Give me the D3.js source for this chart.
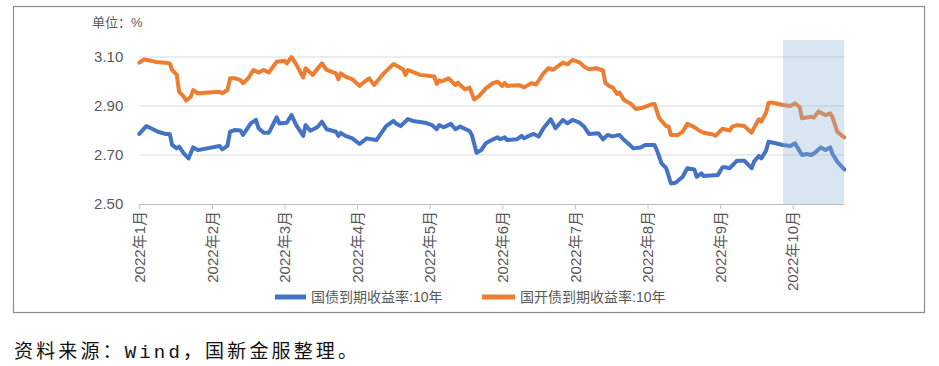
<!DOCTYPE html>
<html><head><meta charset="utf-8">
<script src="https://cdn.jsdelivr.net/npm/d3@7"></script>
<style>body{margin:0;background:#fff}svg{display:block}</style>
</head><body>
<svg id="chart" width="939" height="366"></svg>
<script>
// ---------- data ----------
const monthStarts = ["2022-01-01","2022-02-01","2022-03-01","2022-04-01","2022-05-01","2022-06-01","2022-07-01","2022-08-01","2022-09-01","2022-10-01","2022-11-01"];
const monthLabels = ["2022年1月","2022年2月","2022年3月","2022年4月","2022年5月","2022年6月","2022年7月","2022年8月","2022年9月","2022年10月"];
const yTicks = [2.50, 2.70, 2.90, 3.10];
const seriesNames = ["国债到期收益率:10年", "国开债到期收益率:10年"];
const unitLabel = "单位：%";
const sourceNote = "资料来源：Wind，国新金服整理。";
const highlightRange = ["2022-09-27", "2022-10-23"];
const highlightTop = 3.17;

const cgb10y = [
["2022-01-01",2.786],["2022-01-04",2.818],["2022-01-06",2.809],["2022-01-09",2.795],["2022-01-12",2.786],["2022-01-14",2.786],
["2022-01-15",2.741],["2022-01-17",2.727],["2022-01-18",2.734],["2022-01-20",2.707],["2022-01-22",2.686],["2022-01-24",2.731],
["2022-01-26",2.720],["2022-02-04",2.737],["2022-02-05",2.723],["2022-02-07",2.737],["2022-02-08",2.795],["2022-02-10",2.802],
["2022-02-12",2.800],["2022-02-13",2.782],["2022-02-16",2.829],["2022-02-18",2.843],["2022-02-19",2.809],["2022-02-21",2.791],
["2022-02-23",2.791],["2022-02-26",2.854],["2022-02-27",2.829],["2022-03-02",2.832],["2022-03-04",2.863],["2022-03-06",2.822],
["2022-03-09",2.778],["2022-03-10",2.822],["2022-03-12",2.799],["2022-03-15",2.813],["2022-03-17",2.836],["2022-03-19",2.805],
["2022-03-23",2.795],["2022-03-24",2.778],["2022-03-25",2.790],["2022-03-27",2.778],["2022-03-30",2.768],["2022-04-02",2.745],
["2022-04-05",2.768],["2022-04-07",2.764],["2022-04-09",2.761],["2022-04-11",2.789],["2022-04-13",2.818],["2022-04-16",2.839],
["2022-04-17",2.829],["2022-04-19",2.818],["2022-04-22",2.847],["2022-04-24",2.839],["2022-04-29",2.832],["2022-05-02",2.822],
["2022-05-04",2.805],["2022-05-05",2.822],["2022-05-07",2.813],["2022-05-10",2.827],["2022-05-12",2.805],["2022-05-14",2.816],
["2022-05-18",2.798],["2022-05-19",2.782],["2022-05-21",2.709],["2022-05-23",2.720],["2022-05-25",2.748],["2022-05-28",2.764],
["2022-05-30",2.772],["2022-05-31",2.764],["2022-06-02",2.772],["2022-06-03",2.761],["2022-06-07",2.764],["2022-06-09",2.778],
["2022-06-10",2.768],["2022-06-12",2.778],["2022-06-14",2.786],["2022-06-16",2.775],["2022-06-18",2.809],["2022-06-21",2.846],
["2022-06-23",2.809],["2022-06-26",2.843],["2022-06-28",2.829],["2022-06-30",2.843],["2022-07-03",2.832],["2022-07-05",2.815],
["2022-07-07",2.786],["2022-07-11",2.789],["2022-07-13",2.764],["2022-07-15",2.782],["2022-07-17",2.776],["2022-07-19",2.780],
["2022-07-20",2.782],["2022-07-22",2.761],["2022-07-24",2.745],["2022-07-26",2.727],["2022-07-29",2.731],["2022-07-31",2.741],
["2022-08-04",2.741],["2022-08-05",2.720],["2022-08-07",2.666],["2022-08-09",2.646],["2022-08-11",2.584],["2022-08-13",2.587],
["2022-08-16",2.611],["2022-08-18",2.646],["2022-08-21",2.641],["2022-08-22",2.611],["2022-08-24",2.625],["2022-08-25",2.614],
["2022-08-31",2.618],["2022-09-02",2.650],["2022-09-03",2.650],["2022-09-05",2.646],["2022-09-08",2.677],["2022-09-11",2.677],
["2022-09-14",2.646],["2022-09-15",2.673],["2022-09-17",2.696],["2022-09-18",2.686],["2022-09-20",2.718],["2022-09-21",2.754],
["2022-09-23",2.750],["2022-09-27",2.741],["2022-09-30",2.737],["2022-10-02",2.748],["2022-10-03",2.731],["2022-10-05",2.700],
["2022-10-07",2.704],["2022-10-09",2.700],["2022-10-11",2.713],["2022-10-13",2.731],["2022-10-15",2.720],["2022-10-17",2.731],
["2022-10-18",2.704],["2022-10-20",2.673],["2022-10-23",2.641]
];

const cdb10y = [
["2022-01-01",3.077],["2022-01-03",3.090],["2022-01-06",3.085],["2022-01-08",3.080],["2022-01-12",3.077],["2022-01-14",3.074],
["2022-01-15",3.047],["2022-01-17",3.027],["2022-01-18",2.958],["2022-01-20",2.938],["2022-01-21",2.922],["2022-01-23",2.938],
["2022-01-24",2.965],["2022-01-26",2.952],["2022-02-04",2.958],["2022-02-05",2.952],["2022-02-07",2.965],["2022-02-08",3.013],
["2022-02-10",3.013],["2022-02-12",3.006],["2022-02-13",2.993],["2022-02-15",3.013],["2022-02-17",3.047],["2022-02-19",3.037],
["2022-02-21",3.047],["2022-02-23",3.037],["2022-02-26",3.081],["2022-03-01",3.085],["2022-03-02",3.074],["2022-03-04",3.100],
["2022-03-06",3.070],["2022-03-09",3.016],["2022-03-10",3.054],["2022-03-13",3.027],["2022-03-17",3.074],["2022-03-19",3.047],
["2022-03-23",3.033],["2022-03-24",3.009],["2022-03-25",3.033],["2022-03-27",3.020],["2022-03-30",3.009],["2022-04-02",2.982],
["2022-04-04",2.999],["2022-04-06",3.013],["2022-04-08",2.986],["2022-04-12",3.033],["2022-04-16",3.071],["2022-04-20",3.050],
["2022-04-21",3.027],["2022-04-22",3.047],["2022-04-27",3.027],["2022-05-03",3.020],["2022-05-04",2.990],["2022-05-05",3.005],
["2022-05-06",3.000],["2022-05-09",3.013],["2022-05-12",2.986],["2022-05-13",2.995],["2022-05-16",2.968],["2022-05-18",2.975],
["2022-05-20",2.927],["2022-05-22",2.940],["2022-05-25",2.972],["2022-05-28",2.993],["2022-05-30",2.999],["2022-06-01",2.982],
["2022-06-02",2.994],["2022-06-03",2.982],["2022-06-08",2.985],["2022-06-10",2.976],["2022-06-13",2.993],["2022-06-15",2.988],
["2022-06-18",3.033],["2022-06-20",3.054],["2022-06-22",3.048],["2022-06-26",3.077],["2022-06-28",3.070],["2022-06-30",3.088],
["2022-07-03",3.078],["2022-07-05",3.060],["2022-07-07",3.050],["2022-07-10",3.054],["2022-07-13",3.045],["2022-07-14",2.993],
["2022-07-16",2.979],["2022-07-17",2.977],["2022-07-19",2.949],["2022-07-20",2.955],["2022-07-22",2.924],["2022-07-25",2.908],
["2022-07-27",2.888],["2022-07-30",2.893],["2022-08-03",2.908],["2022-08-04",2.908],["2022-08-06",2.850],["2022-08-09",2.818],
["2022-08-10",2.816],["2022-08-11",2.782],["2022-08-14",2.782],["2022-08-16",2.795],["2022-08-18",2.827],["2022-08-21",2.814],
["2022-08-23",2.800],["2022-08-25",2.791],["2022-08-29",2.784],["2022-08-30",2.778],["2022-09-02",2.807],["2022-09-05",2.800],
["2022-09-06",2.816],["2022-09-08",2.822],["2022-09-11",2.818],["2022-09-14",2.791],["2022-09-16",2.829],["2022-09-17",2.846],
["2022-09-18",2.836],["2022-09-20",2.873],["2022-09-21",2.913],["2022-09-23",2.913],["2022-09-27",2.904],["2022-09-30",2.900],
["2022-10-02",2.911],["2022-10-04",2.895],["2022-10-05",2.850],["2022-10-09",2.856],["2022-10-10",2.852],["2022-10-12",2.877],
["2022-10-15",2.863],["2022-10-17",2.870],["2022-10-18",2.855],["2022-10-20",2.795],["2022-10-23",2.772]
];

// ---------- layout ----------
const plotLeft = 139.3, monthWidth = 72.6, plotTop = 57, plotBottom = 204;
const colors = ["#4472C4", "#ED7D31"];
const textColor = "#595959";
const latin = "'Liberation Sans', Arial, 'Noto Sans CJK SC', sans-serif";

const parse = d3.utcParse("%Y-%m-%d");
const svg = d3.select("#chart");

const x = d3.scaleUtc()
  .domain(monthStarts.map(parse))
  .range(monthStarts.map((d, i) => plotLeft + monthWidth * i));
const y = d3.scaleLinear().domain([2.5, 3.1]).range([plotBottom, plotTop]);

// outer frame
svg.append("rect").attr("x", 13.5).attr("y", 6.5).attr("width", 911).attr("height", 306)
  .attr("fill", "none").attr("stroke", "#8c8c8c").attr("stroke-width", 1.2);

// unit label
svg.append("text").attr("x", 92).attr("y", 27).attr("fill", textColor)
  .style("font-family", latin).style("font-size", "13px").text(unitLabel);

const allDates = cgb10y.map(d => parse(d[0]));
const xEnd = x(d3.max(allDates));

// gridlines
svg.append("g").selectAll("line").data(yTicks.filter(t => t > 2.5)).join("line")
  .attr("x1", plotLeft).attr("x2", xEnd)
  .attr("y1", d => y(d)).attr("y2", d => y(d))
  .attr("stroke", "#d9d9d9").attr("stroke-width", 1);

// y axis labels
const yAxis = d3.axisLeft(y).tickValues(yTicks).tickFormat(d3.format(".2f")).tickSize(0).tickPadding(16);
const gy = svg.append("g").attr("transform", `translate(${plotLeft},0)`).call(yAxis);
gy.select(".domain").remove();
gy.selectAll("text").attr("fill", textColor).style("font-family", latin).style("font-size", "15px");

// x axis
const xAxis = d3.axisBottom(x).tickValues(monthStarts.slice(0, 10).map(parse))
  .tickFormat((d, i) => monthLabels[i]).tickSize(5).tickSizeOuter(0);
const gx = svg.append("g").attr("transform", `translate(0,${plotBottom})`).call(xAxis);
gx.select(".domain").attr("d", `M${plotLeft},0.5H${xEnd}`).attr("stroke", "#bfbfbf");
gx.selectAll(".tick line").attr("stroke", "#bfbfbf");
gx.selectAll(".tick text")
  .attr("fill", textColor).style("font-family", latin).style("font-size", "15px")
  .attr("text-anchor", "end").attr("transform", "rotate(-90)")
  .attr("x", -7).attr("y", 0).attr("dy", "0.35em");

// lines
const line = d3.line().x(d => x(parse(d[0]))).y(d => y(d[1]));
[cgb10y, cdb10y].forEach((s, i) => {
  svg.append("path").datum(s).attr("d", line).attr("fill", "none")
    .attr("stroke", colors[i]).attr("stroke-width", 4)
    .attr("stroke-linejoin", "round").attr("stroke-linecap", "round");
});

// highlight band (drawn on top, translucent)
const hx0 = x(parse(highlightRange[0])), hx1 = x(parse(highlightRange[1]));
svg.append("rect").attr("x", hx0).attr("y", y(highlightTop))
  .attr("width", hx1 - hx0).attr("height", y(2.5) - y(highlightTop))
  .attr("fill", "#8fb4d6").attr("opacity", 0.34);

// legend
const legendItems = [{x: 275, w: 31}, {x: 482, w: 33}];
legendItems.forEach((it, i) => {
  svg.append("line").attr("x1", it.x).attr("x2", it.x + it.w).attr("y1", 297).attr("y2", 297)
    .attr("stroke", colors[i]).attr("stroke-width", 5);
  svg.append("text").attr("x", it.x + it.w + 5).attr("y", 297).attr("dy", "0.35em")
    .attr("fill", textColor).style("font-family", latin).style("font-size", "14px").text(seriesNames[i]);
});

// source note
svg.append("text").attr("x", 14).attr("y", 358).attr("fill", "#111")
  .attr("textLength", 343).attr("lengthAdjust", "spacing")
  .style("font-family", "'Liberation Mono', 'Noto Sans CJK SC', monospace").style("font-size", "19px")
  .text(sourceNote);
</script>
</body></html>
